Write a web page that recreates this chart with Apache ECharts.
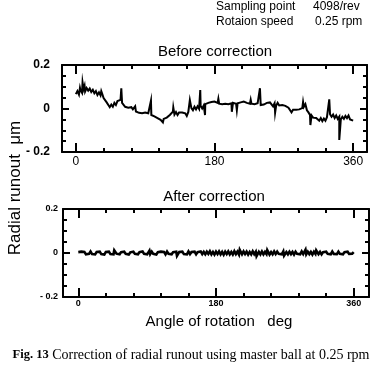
<!DOCTYPE html>
<html>
<head>
<meta charset="utf-8">
<script src="https://cdn.jsdelivr.net/npm/echarts@6/dist/echarts.min.js"></script>
<style>
html,body{margin:0;padding:0;background:#fff;}
#chart{width:381px;height:372px;}
</style>
</head>
<body>
<div id="chart"></div>
<script>
// ---------- data ----------
const ANGLE_STEP = 2; // degrees between samples below, starting at 0
const beforeValues = [
  0.066, 0.080, 0.064, 0.084, 0.072, 0.090, 0.078, 0.094, 0.082, 0.092,
  0.076, 0.086, 0.070, 0.080, 0.062, 0.074, 0.060, 0.070, 0.048, 0.050,
  0.028, 0.026, 0.006, 0.018, 0.008, 0.026, 0.016, 0.034, 0.026, 0.040,
  0.026, 0.028, 0.008, 0.004, 0.004, 0.002, 0.006, -0.004, -0.006, -0.014,
  -0.014, -0.020, -0.020, -0.022, -0.018, -0.018, -0.016, -0.022, -0.024, -0.030,
  -0.032, -0.036, -0.038, -0.044, -0.046, -0.052, -0.050, -0.048, -0.042, -0.042,
  -0.044, -0.030, -0.026, -0.014, -0.028, -0.016, -0.030, -0.018, -0.018, -0.018,
  -0.016, -0.022, -0.034, -0.016, -0.014, 0.002, -0.008, 0.008, -0.004, 0.010,
  -0.002, 0.012, 0.000, 0.014, 0.020, 0.022, 0.026, 0.026, 0.030, 0.030,
  0.032, 0.028, 0.026, 0.022, 0.024, 0.020, 0.022, 0.022, 0.024, 0.020,
  0.022, 0.024, 0.026, 0.022, 0.022, 0.024, 0.028, 0.028, 0.032, 0.032,
  0.030, 0.026, 0.026, 0.022, 0.022, 0.020, 0.020, 0.018, 0.024, 0.024,
  0.016, 0.016, 0.018, 0.020, 0.026, 0.026, 0.028, 0.020, 0.010, 0.024,
  0.012, 0.026, 0.014, 0.014, 0.016, 0.014, 0.012, 0.006, 0.004, -0.004,
  -0.018, -0.006, -0.006, -0.006, -0.004, -0.004, 0.000, 0.002, 0.008, 0.020,
  -0.008, -0.018, -0.030, -0.032, -0.042, -0.042, -0.044, -0.046, -0.056, -0.044,
  -0.058, -0.046, -0.056, -0.040, -0.040, -0.026, -0.038, -0.028, -0.044, -0.032,
  -0.048, -0.038, -0.050, -0.038, -0.048, -0.034, -0.044, -0.032, -0.050, -0.042,
  -0.056
];
// isolated spikes: [angle deg, value µm]
const beforeSpikes = [
  [5.3, 0.095], [8.7, 0.120], [11.3, 0.105], [33, 0.080], [59, 0.093], [77, 0.010],
  [97.5, 0.036], [113, -0.064], [126.5, 0.005], [148, 0.039], [161.5, 0.085],
  [167.7, -0.030], [185, 0.045], [202.5, -0.015], [209, -0.008], [227, 0.040],
  [239, 0.093], [258.7, -0.019], [295, 0.030], [304.5, -0.076], [329, 0.042],
  [342, -0.145], [351, -0.030]
];
const afterValues = [
  0.004, -0.005, 0.006, -0.003, 0.005, -0.006, 0.003, -0.004, 0.007, -0.005,
  0.004, -0.006, 0.005, -0.003, 0.006, -0.005, 0.003, -0.007, 0.005, -0.004,
  0.006, -0.005, 0.004, -0.006, 0.007, -0.003, 0.005, -0.006, 0.004, -0.005,
  0.006, -0.004, 0.005, -0.007, 0.003, -0.005, 0.006, -0.004, 0.005, -0.006,
  0.004, -0.005, 0.007, -0.004, 0.005, -0.006, 0.003, -0.005, 0.006, -0.004,
  0.005, -0.007, 0.004, -0.005, 0.006, -0.003, 0.005, -0.006, 0.007, -0.004,
  0.005, -0.006, 0.004, -0.005, 0.006, -0.007, 0.005, -0.004, 0.006, -0.005,
  0.004, -0.006, 0.007, -0.005, 0.005, -0.004, 0.006, -0.006, 0.004, -0.005,
  0.007, -0.005, 0.005, -0.006, 0.006, -0.004, 0.008, -0.006, 0.005, -0.007,
  0.006, -0.005, 0.007, -0.006, 0.005, -0.008, 0.006, -0.005, 0.007, -0.006,
  0.005, -0.007, 0.008, -0.005, 0.006, -0.007, 0.005, -0.006, 0.007, -0.005,
  0.006, -0.007, 0.005, -0.006, 0.008, -0.005, 0.006, -0.007, 0.005, -0.006,
  0.007, -0.006, 0.005, -0.005, 0.006, -0.007, 0.004, -0.006, 0.007, -0.005,
  0.006, -0.004, 0.005, -0.006, 0.007, -0.005, 0.004, -0.006, 0.006, -0.005,
  0.005, -0.007, 0.006, -0.004, 0.005, -0.006, 0.007, -0.005, 0.004, -0.006,
  0.006, -0.005, 0.005, -0.007, 0.006, -0.004, 0.007, -0.005, 0.005, -0.006,
  0.004, -0.005, 0.006, -0.004, 0.005, -0.006, 0.007, -0.004, 0.005, -0.005,
  0.006, -0.004, 0.005, -0.006, 0.004, -0.005, 0.006, -0.004, 0.005, -0.003,
  0.004
];
const afterSpikes = [
  [47, 0.012], [93, 0.011], [129, -0.013], [157, 0.013], [185, 0.012],
  [211, 0.014], [229, 0.016], [233, -0.014], [247, 0.013], [269, -0.012],
  [297, 0.015], [311, 0.012], [335, -0.012]
];
const xLabelValues = [0, 180, 360];
const xMinorTicks = [36, 72, 108, 144, 216, 252, 288, 324];
const yLabelValues = [-0.2, 0, 0.2];
const yMajorTicks = [0];
const yMinorTicks = [-0.15, -0.1, -0.05, 0.05, 0.1, 0.15];

// ---------- helpers ----------
function buildPoints(values, spikes) {
  const pts = values.map((v, i) => [i * ANGLE_STEP, v]);
  spikes.forEach(s => pts.push([s[0], s[1]]));
  pts.sort((a, b) => a[0] - b[0]);
  return pts;
}
const BLACK = '#000';
function yFmt(v) { return v === 0 ? '0' : (v < 0 ? '- 0.2' : '0.2'); }

function xAxesFor(grid, min, max, font, margin) {
  const base = {gridIndex: grid, type: 'value', min: min, max: max, splitLine: {show: false}};
  return [
    Object.assign({}, base, {position: 'bottom',
      axisLine: {show: true, onZero: false, lineStyle: {color: BLACK, width: 2}},
      axisTick: {show: true, inside: true, length: 9, customValues: xLabelValues, lineStyle: {color: BLACK, width: 2}},
      axisLabel: {show: true, customValues: xLabelValues, margin: margin, color: BLACK, fontFamily: 'Liberation Sans, Arial', fontSize: font.size, fontWeight: font.weight}}),
    Object.assign({}, base, {position: 'bottom',
      axisLine: {show: false, onZero: false},
      axisTick: {show: true, inside: true, length: 4, customValues: xMinorTicks, lineStyle: {color: BLACK, width: 2}},
      axisLabel: {show: false}}),
    Object.assign({}, base, {position: 'top',
      axisLine: {show: true, onZero: false, lineStyle: {color: BLACK, width: 2}},
      axisTick: {show: true, inside: true, length: 9, customValues: xLabelValues, lineStyle: {color: BLACK, width: 2}},
      axisLabel: {show: false}}),
    Object.assign({}, base, {position: 'top',
      axisLine: {show: false, onZero: false},
      axisTick: {show: true, inside: true, length: 4, customValues: xMinorTicks, lineStyle: {color: BLACK, width: 2}},
      axisLabel: {show: false}})
  ];
}
function yAxesFor(grid, font, margin) {
  const base = {gridIndex: grid, type: 'value', min: -0.2, max: 0.2, splitLine: {show: false}};
  return [
    Object.assign({}, base, {position: 'left',
      axisLine: {show: true, onZero: false, lineStyle: {color: BLACK, width: 2}},
      axisTick: {show: true, inside: true, length: 7, customValues: yMajorTicks, lineStyle: {color: BLACK, width: 2}},
      axisLabel: {show: true, customValues: yLabelValues, formatter: yFmt, margin: margin, color: BLACK, fontFamily: 'Liberation Sans, Arial', fontSize: font.size, fontWeight: font.weight}}),
    Object.assign({}, base, {position: 'left',
      axisLine: {show: false, onZero: false},
      axisTick: {show: true, inside: true, length: 4, customValues: yMinorTicks, lineStyle: {color: BLACK, width: 2}},
      axisLabel: {show: false}}),
    Object.assign({}, base, {position: 'right',
      axisLine: {show: true, onZero: false, lineStyle: {color: BLACK, width: 2}},
      axisTick: {show: true, inside: true, length: 7, customValues: yMajorTicks, lineStyle: {color: BLACK, width: 2}},
      axisLabel: {show: false}}),
    Object.assign({}, base, {position: 'right',
      axisLine: {show: false, onZero: false},
      axisTick: {show: true, inside: true, length: 4, customValues: yMinorTicks, lineStyle: {color: BLACK, width: 2}},
      axisLabel: {show: false}})
  ];
}

const chart = echarts.init(document.getElementById('chart'), null, {renderer: 'canvas'});
const sansFont = 'Liberation Sans, Arial, sans-serif';
const option = {
  animation: false,
  backgroundColor: '#fff',
  grid: [
    {left: 62, right: 14, top: 65, height: 87},
    {left: 63, right: 12, top: 209, height: 88}
  ],
  xAxis: [].concat(
    xAxesFor(0, -18, 378, {size: 12, weight: 'normal'}, 4),
    xAxesFor(1, -20, 380, {size: 9, weight: 'bold'}, 2)
  ),
  yAxis: [].concat(
    yAxesFor(0, {size: 12, weight: 'bold'}, 12),
    yAxesFor(1, {size: 9, weight: 'bold'}, 5)
  ),
  series: [
    {type: 'line', xAxisIndex: 0, yAxisIndex: 0, data: buildPoints(beforeValues, beforeSpikes),
     showSymbol: false, symbol: 'none', sampling: null, lineStyle: {color: BLACK, width: 2, join: 'miter'}, silent: true},
    {type: 'line', xAxisIndex: 4, yAxisIndex: 4, data: buildPoints(afterValues, afterSpikes),
     showSymbol: false, symbol: 'none', sampling: null, lineStyle: {color: BLACK, width: 2.6, join: 'miter'}, silent: true}
  ],
  graphic: [
    {type: 'text', left: 216, top: 1, style: {text: 'Sampling point', font: '12px ' + sansFont, fill: BLACK}},
    {type: 'text', left: 313, top: 1, style: {text: '4098/rev', font: '12px ' + sansFont, fill: BLACK}},
    {type: 'text', left: 216, top: 16, style: {text: 'Rotaion speed', font: '12px ' + sansFont, fill: BLACK}},
    {type: 'text', left: 315, top: 16, style: {text: '0.25 rpm', font: '12px ' + sansFont, fill: BLACK}},
    {type: 'text', x: 215, y: 52, style: {text: 'Before correction', font: '15px ' + sansFont, fill: BLACK, textAlign: 'center', textVerticalAlign: 'middle'}},
    {type: 'text', x: 214, y: 197, style: {text: 'After correction', font: '15px ' + sansFont, fill: BLACK, textAlign: 'center', textVerticalAlign: 'middle'}},
    {type: 'text', x: 219, y: 322, style: {text: 'Angle of rotation   deg', font: '15px ' + sansFont, fill: BLACK, textAlign: 'center', textVerticalAlign: 'middle'}},
    {type: 'text', x: 15, y: 188, rotation: Math.PI / 2, style: {text: 'Radial runout  \u03bcm', font: '17px ' + sansFont, fill: BLACK, textAlign: 'center', textVerticalAlign: 'middle'}},
    {type: 'text', x: 191, y: 355, style: {
      text: '{a|Fig. 13} Correction of radial runout using master ball at 0.25 rpm',
      font: '14px Liberation Serif, Times New Roman, serif', fill: BLACK, textAlign: 'center', textVerticalAlign: 'middle',
      rich: {a: {fontFamily: 'Liberation Serif, Times New Roman, serif', fontSize: 12.5, fontWeight: 'bold', fill: BLACK}}
    }}
  ]
};
chart.setOption(option);
</script>
</body>
</html>
